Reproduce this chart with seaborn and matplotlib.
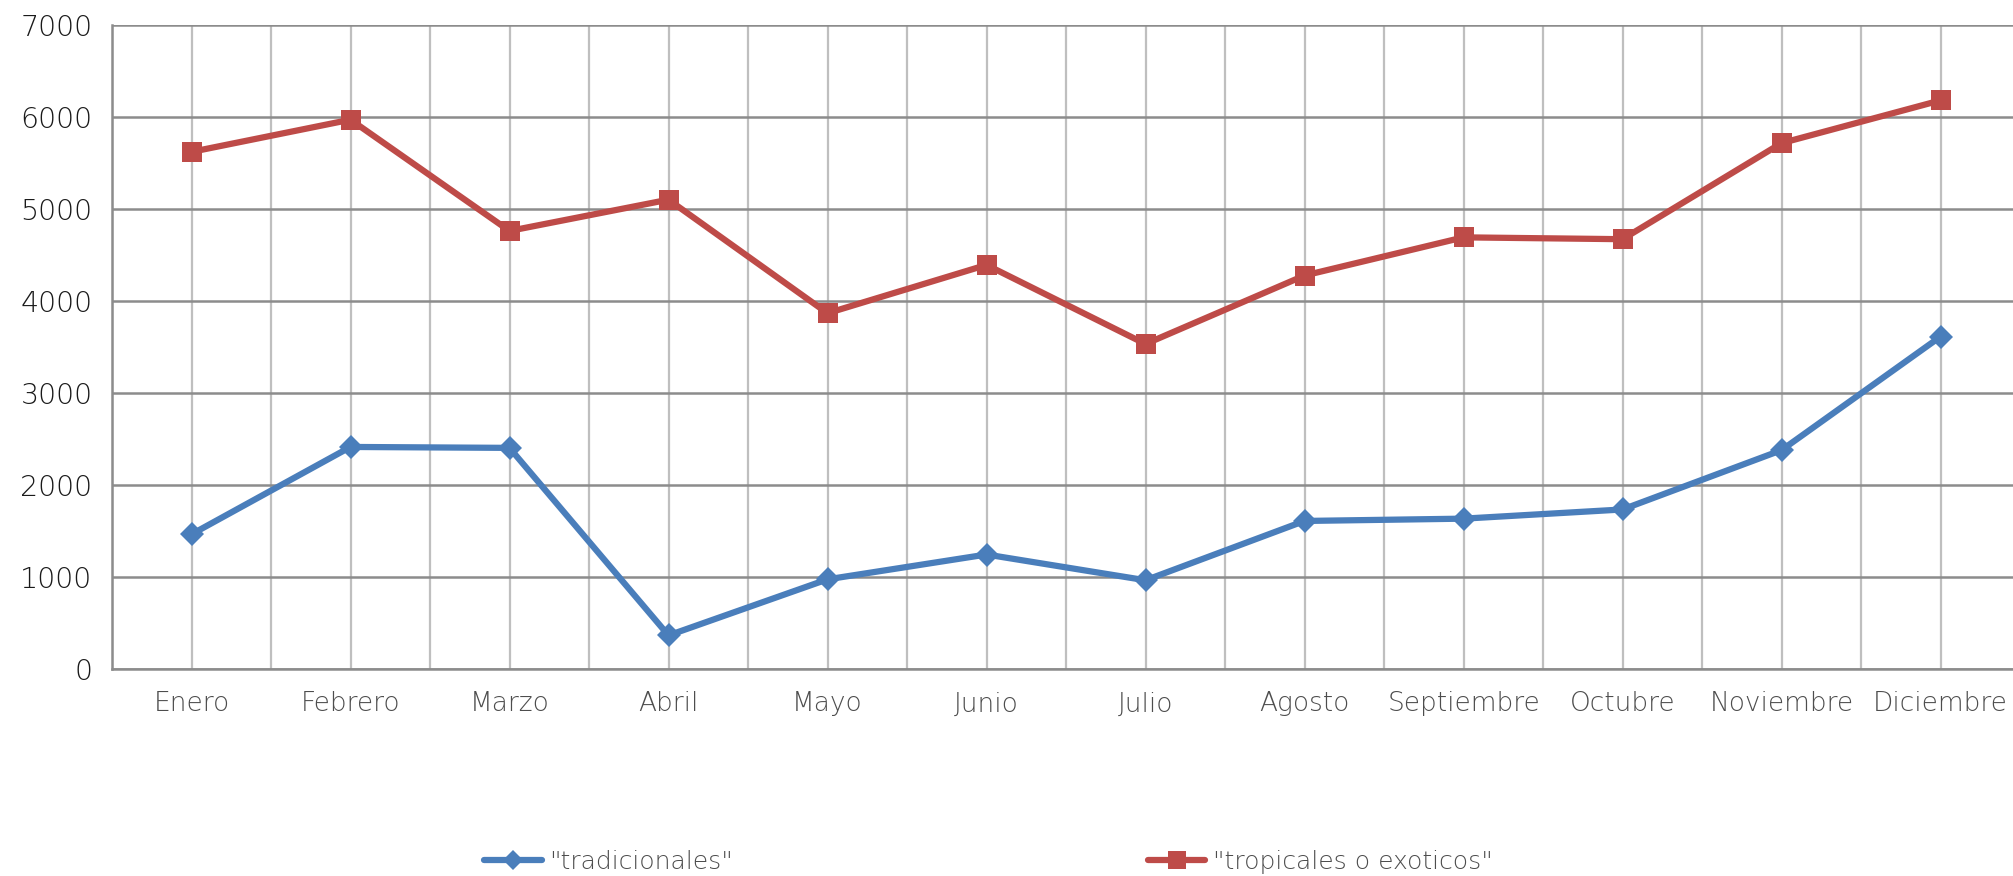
import matplotlib
matplotlib.use("Agg")
import numpy as np
import pandas as pd
import matplotlib.pyplot as plt
from matplotlib.lines import Line2D
import seaborn as sns

# --- data ---
meses = ["Enero", "Febrero", "Marzo", "Abril", "Mayo", "Junio", "Julio",
         "Agosto", "Septiembre", "Octubre", "Noviembre", "Diciembre"]
tradicionales = [1460, 2410, 2400, 360, 970, 1240, 960, 1605, 1630, 1730, 2375, 3610]
tropicales = [5620, 5970, 4760, 5100, 3865, 4390, 3530, 4275, 4690, 4670, 5715, 6180]
series = ['"tradicionales"', '"tropicales o exoticos"']
colores = ["#4A7EBB", "#BE4B48"]
yticks = [0, 1000, 2000, 3000, 4000, 5000, 6000, 7000]

df = pd.DataFrame({
    "mes": meses * 2,
    "valor": tradicionales + tropicales,
    "serie": [series[0]] * 12 + [series[1]] * 12,
})

sns.set_style("white")
plt.rcParams["font.family"] = ["DejaVu Sans"]

fig = plt.figure(figsize=(20.13, 8.76), dpi=100)
ax = fig.add_axes([112 / 2013, 1 - 668.5 / 876, (2020 - 112) / 2013, (668.5 - 25) / 876])

sns.lineplot(data=df, x="mes", y="valor", hue="serie", style="serie",
             palette=dict(zip(series, colores)),
             markers=dict(zip(series, ["D", "s"])), dashes=False,
             linewidth=4.5, markersize=14, markeredgewidth=0,
             sort=False, ax=ax, legend=False)
for ln, ms in zip(ax.lines, [12, 15]):
    ln.set_markersize(ms)

ax.set_xlim(-0.5, 11.5)
ax.set_ylim(0, 7000)
ax.set_xlabel("")
ax.set_ylabel("")

# vertical grid at every half category, ticks at category boundaries
ax.set_xticks(range(12))
ax.set_xticklabels(meses, fontsize=19, color="#4d4d4d", fontweight=200)
ax.set_xticks(np.arange(-0.5, 12, 1), minor=True)
ax.tick_params(axis="x", which="major", length=0, pad=16.5)
ax.tick_params(axis="x", which="minor", length=8, width=1.5, color="#8c8c8c", direction="out")
ax.grid(True, axis="x", which="both", color="#bfbfbf", linewidth=1.6)

ax.set_yticks(yticks)
ax.set_yticklabels([str(v) for v in yticks], fontsize=20.5, color="#1a1a1a", fontweight=200)
ax.tick_params(axis="y", length=8, width=1.5, color="#8c8c8c", direction="out", pad=6)
ax.grid(True, axis="y", color="#8c8c8c", linewidth=1.8)
ax.set_axisbelow(True)

for side in ["top", "right"]:
    ax.spines[side].set_visible(False)
ax.spines["left"].set_color("#8c8c8c")
ax.spines["left"].set_linewidth(1.8)
ax.spines["bottom"].set_color("#8c8c8c")
ax.spines["bottom"].set_linewidth(1.8)

handles = [
    Line2D([], [], color=colores[0], marker="D", markersize=10, linewidth=4.5, markeredgewidth=0),
    Line2D([], [], color=colores[1], marker="s", markersize=12.5, linewidth=4.5, markeredgewidth=0),
]
leg = fig.legend(handles, series, loc="center left",
                 bbox_to_anchor=(484 / 2013, 1 - 862 / 876),
                 ncol=2, frameon=False, fontsize=18, handlelength=2.3,
                 handletextpad=0.3, columnspacing=16.6, borderpad=0, borderaxespad=0)
for t in leg.get_texts():
    t.set_color("#4d4d4d")
    t.set_fontweight(200)

fig.savefig("out.png", dpi=100)
